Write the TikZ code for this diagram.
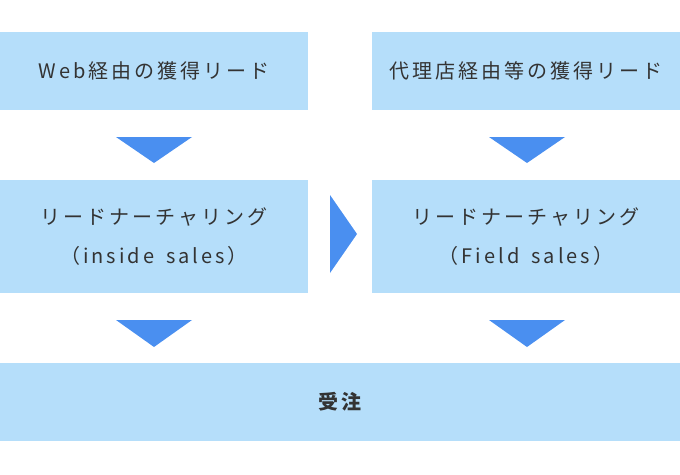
\documentclass[tikz,border=0pt]{standalone}
\usepackage{fontspec}
\setmainfont{Noto Sans CJK JP}[LetterSpace=15,WordSpace=1.6]
\usetikzlibrary{positioning}
\definecolor{boxblue}{HTML}{B5DEFA}
\definecolor{arrblue}{HTML}{4A8FF0}
\definecolor{txt}{HTML}{333333}
\tikzset{
	leadbox/.style={fill=boxblue, draw=none, minimum width=308pt, text=txt, font=\fontsize{20pt}{39pt}\selectfont, align=center, inner sep=0pt},
	arrowtri/.style={fill=arrblue, draw=none}
}
\begin{document}
\begin{tikzpicture}[x=1pt,y=-1pt]
	\useasboundingbox (0,0) rectangle (680,474);
	\node[leadbox, minimum height=78pt] (web) at (154,71){Web経由の獲得リード};
	\node[leadbox, minimum height=78pt] (agency) at (526,71){代理店経由等の獲得リード};
	\node[leadbox, minimum height=113pt] (inside) at (154,236.5){リードナーチャリング\\（inside sales）};
	\node[leadbox, minimum height=113pt] (field) at (526,236.5){リードナーチャリング\\（Field sales）};
	\node[leadbox, minimum width=680pt, minimum height=78pt, font=\fontsize{20pt}{39pt}\selectfont\bfseries] (order) at (340,402){受注};
	% arrows between boxes
	\fill[arrowtri] (116,137)--(192,137)--(154,163)--cycle;
	\fill[arrowtri] (489,137)--(565,137)--(527,163)--cycle;
	\fill[arrowtri] (116,320)--(192,320)--(154,347)--cycle;
	\fill[arrowtri] (489,320)--(565,320)--(527,347)--cycle;
	\fill[arrowtri] (330,195)--(357,234)--(330,273)--cycle;
\end{tikzpicture}
\end{document}
